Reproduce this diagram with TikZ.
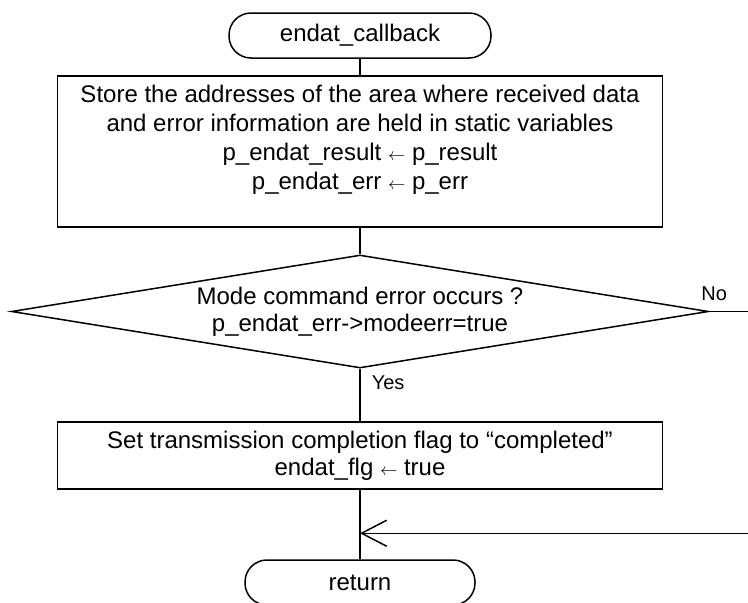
\documentclass[tikz,border=0pt]{standalone}
\usepackage{fontspec}
\setmainfont{Liberation Sans}
\usetikzlibrary{shapes.geometric,positioning,arrows.meta}

\newcommand{\getsto}{{\fontsize{18}{18}\selectfont$\leftarrow$}}

\tikzset{
    term/.style={draw, rectangle, rounded corners=22pt, minimum width=#1, minimum height=45pt, inner sep=0pt},
    proc/.style={draw, rectangle, minimum width=605pt, align=center, inner sep=0pt},
    decide/.style={draw, diamond, aspect=6.17, minimum width=697pt, minimum height=113pt, inner sep=0pt, align=center},
    lbl/.style={font=\fontsize{20}{24}\selectfont, inner sep=0pt},
}

\begin{document}
\begin{tikzpicture}[x=1pt, y=-1pt, line width=1.5pt, font=\fontsize{24}{29}\selectfont]
    \useasboundingbox (0,0) rectangle (748,603);
    \node[term=262pt] (1) at (360,35.5) {endat\_callback};
    \node[proc, minimum height=151pt] (2) [below of=1, node distance=116pt] {Store the addresses of the area where received data\\ and error information are held in static variables\\ p\_endat\_result \getsto{} p\_result\\ p\_endat\_err \getsto{} p\_err\\ \mbox{}};
    \node[decide, font=\fontsize{24}{27}\selectfont] (3) [below of=2, node distance=160pt] {Mode command error occurs ?\\ p\_endat\_err->modeerr=true};
    \node[proc, minimum height=67pt, font=\fontsize{24}{27}\selectfont] (4) [below of=3, node distance=144pt] {Set transmission completion flag to “completed”\\ endat\_flg \getsto{} true};
    \node[term=230pt] (5) [below of=4, node distance=127pt] {return};
    \coordinate[right=41pt of 3.east] (no);
    \coordinate[below=43.5pt of 4.south] (join);
    \coordinate[right=388pt of join] (back);
    \draw (1) -- (2);
    \draw (2) -- (3);
    \draw (3) -- (4) node[lbl, anchor=west, pos=0.26, xshift=11pt] (yes) {Yes};
    \draw (3) -- (no) node[lbl, anchor=south, pos=0.12, yshift=10pt] (nolabel) {No};
    \draw (4) -- (5);
    \draw[-{Straight Barb[length=25pt, width=26pt]}] (back) -- (join);
\end{tikzpicture}
\end{document}
